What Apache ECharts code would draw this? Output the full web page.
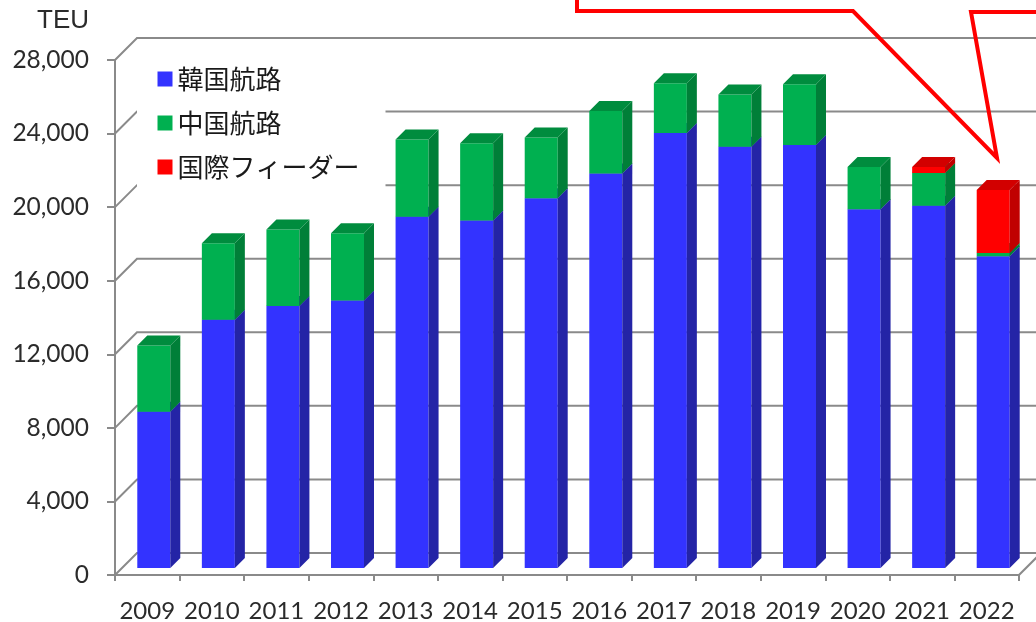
<!DOCTYPE html>
<html>
<head>
<meta charset="utf-8">
<script src="https://cdn.jsdelivr.net/npm/echarts@6/dist/echarts.min.js"></script>
<style>
html,body{margin:0;padding:0;background:#fff;}
#chart{width:1036px;height:622px;}
</style>
</head>
<body>
<div id="chart"></div>
<script>
// ---- data ----
const years = ['2009','2010','2011','2012','2013','2014','2015','2016','2017','2018','2019','2020','2021','2022'];
const korea  = [8500,13500,14250,14550,19100,18900,20100,21450,23650,22900,23000,19500,19700,16950];
const china  = [3600,4150,4150,3650,4200,4200,3300,3400,2700,2850,3300,2300,1780,180];
const feeder = [0,0,0,0,0,0,0,0,0,0,0,0,320,3420];
const yTicks = [0,4000,8000,12000,16000,20000,24000,28000];
const seriesNames = ['韓国航路','中国航路','国際フィーダー'];
const unitLabel = 'TEU';

// ---- styling ----
const palette = [
  {front:'#3333FF', side:'#2424A6', top:'#2A2AC8'},
  {front:'#00B050', side:'#007F38', top:'#008C3E'},
  {front:'#FF0000', side:'#C00000', top:'#D20000'}
];
const DEPTH_WALL = 22;   // back wall offset
const PLANE_DY = 7;      // bar plane offset
const BAR_W = 33, BAR_D = 10;
const gridColor = '#8a8a8a';

const layers = [korea, china, feeder];
function layerData(k){
  return years.map((y,i)=>{
    let base = 0;
    for (let j=0;j<k;j++) base += layers[j][i];
    return [i, base, layers[k][i]];
  });
}

function barRender(k){
  const c = palette[k];
  return function(params, api){
    const cat = api.value(0), base = api.value(1), val = api.value(2);
    if (!(val > 0)) return null;
    const pB = api.coord([cat, base]);
    const pT = api.coord([cat, base + val]);
    const x0 = pB[0] - 10;
    const yB = pB[1] - PLANE_DY, yT = pT[1] - PLANE_DY;
    const w = BAR_W, d = BAR_D;
    return {
      type:'group',
      children:[
        {type:'rect', shape:{x:x0, y:yT, width:w, height:yB-yT}, style:{fill:c.front}},
        {type:'polygon', shape:{points:[[x0+w,yB],[x0+w+d,yB-d],[x0+w+d,yT-d],[x0+w,yT]]}, style:{fill:c.side}},
        {type:'polygon', shape:{points:[[x0,yT],[x0+w,yT],[x0+w+d,yT-d],[x0+d,yT-d]]}, style:{fill:c.top}}
      ]
    };
  };
}

function gridRender(params, api){
  const v = api.value(1);
  const y = api.coord([0, v])[1];
  const cs = params.coordSys;
  const left = cs.x, right = cs.x + cs.width;
  const D = DEPTH_WALL;
  const children = [
    {type:'polyline', shape:{points:[[left,y],[left+D,y-D],[right+D+30,y-D]]},
     style:{stroke:gridColor, lineWidth:2, fill:null}}
  ];
  if (v === 0) {
    children.push({type:'line', shape:{x1:right,y1:y,x2:right+D,y2:y-D},
      style:{stroke:gridColor, lineWidth:2}});
  }
  return {type:'group', children};
}

const chart = echarts.init(document.getElementById('chart'), null, {renderer:'canvas'});

const option = {
  backgroundColor:'#ffffff',
  animation:false,
  grid:{left:115, top:60, width:904, height:515, containLabel:false, outerBoundsMode:'none'},
  xAxis:{
    type:'category',
    data:years,
    boundaryGap:true,
    axisLine:{show:true, lineStyle:{color:gridColor, width:2}},
    axisTick:{show:true, length:6, lineStyle:{color:gridColor, width:2}},
    axisLabel:{margin:24, fontSize:24, fontFamily:'Lato', color:'#2b2b2b', interval:0},
    splitLine:{show:false}
  },
  yAxis:{
    type:'value',
    min:0, max:28000, interval:4000,
    axisLine:{show:true, lineStyle:{color:gridColor, width:2}},
    axisTick:{show:true, length:8, lineStyle:{color:gridColor, width:2}},
    axisLabel:{margin:26, fontSize:24.5, fontFamily:'Lato', color:'#2b2b2b',
      formatter:(v)=>v.toLocaleString('en-US')},
    splitLine:{show:false}
  },
  legend:{
    orient:'vertical',
    left:137, top:45,
    padding:[19, 26, 18, 20.5],
    backgroundColor:'#ffffff',
    itemWidth:15, itemHeight:15, itemGap:14,
    icon:'rect',
    textStyle:{fontSize:26, lineHeight:30, fontFamily:'"Noto Sans CJK JP"', color:'#1a1a1a'},
    data:seriesNames.map((n,k)=>({name:n, itemStyle:{color:palette[k].front}}))
  },
  series:[
    {type:'custom', name:'grid', renderItem:gridRender, clip:false, silent:true, z:1,
     encode:{x:0, y:1}, data:yTicks.map(v=>[0, v])},
    {type:'custom', name:seriesNames[0], renderItem:barRender(0), clip:false, z:2,
     itemStyle:{color:palette[0].front}, encode:{x:0, y:[1,2]}, data:layerData(0)},
    {type:'custom', name:seriesNames[1], renderItem:barRender(1), clip:false, z:2,
     itemStyle:{color:palette[1].front}, encode:{x:0, y:[1,2]}, data:layerData(1)},
    {type:'custom', name:seriesNames[2], renderItem:barRender(2), clip:false, z:2,
     itemStyle:{color:palette[2].front}, encode:{x:0, y:[1,2]}, data:layerData(2)}
  ],
  graphic:[
    {type:'text', left:37, top:8, z:10,
     style:{text:unitLabel, fontSize:26, fontFamily:'"Liberation Sans"', fill:'#2b2b2b'}},
    {type:'polyline', z:10,
     shape:{points:[[577,-5],[577,11],[853,11],[997,158],[971,12],[1045,12]]},
     style:{stroke:'#ff0000', lineWidth:4, fill:null, lineJoin:'miter'}}
  ]
};
chart.setOption(option);
</script>
</body>
</html>
